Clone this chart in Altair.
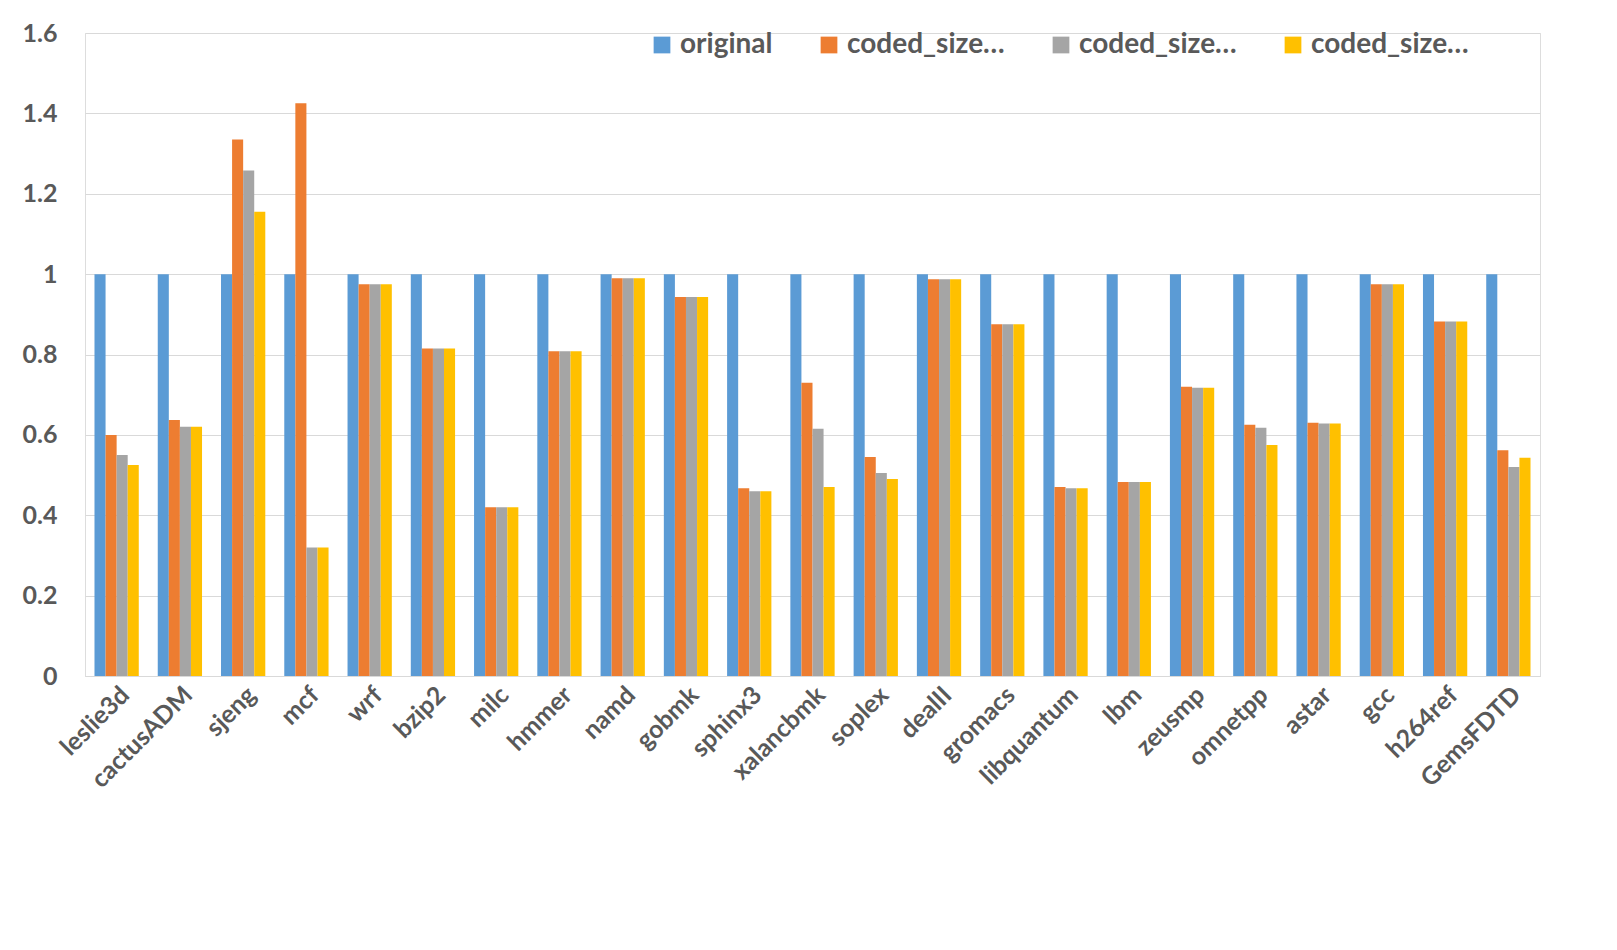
import altair as alt
import pandas as pd

benchmarks = ["leslie3d","cactusADM","sjeng","mcf","wrf","bzip2","milc","hmmer","namd","gobmk",
              "sphinx3","xalancbmk","soplex","dealII","gromacs","libquantum","lbm","zeusmp",
              "omnetpp","astar","gcc","h264ref","GemsFDTD"]
original = [1.0]*23
coded_size32 = [0.60,0.637,1.335,1.425,0.975,0.815,0.42,0.808,0.99,0.943,0.467,0.73,0.545,0.987,0.875,0.47,0.483,0.72,0.625,0.63,0.975,0.882,0.562]
coded_size64 = [0.55,0.62,1.258,0.32,0.975,0.815,0.42,0.808,0.99,0.943,0.46,0.615,0.505,0.987,0.875,0.467,0.483,0.717,0.618,0.628,0.975,0.882,0.52]
coded_size128 = [0.525,0.62,1.155,0.32,0.975,0.815,0.42,0.808,0.99,0.943,0.46,0.47,0.49,0.987,0.875,0.467,0.483,0.717,0.575,0.628,0.975,0.882,0.543]
series = ["original","coded_size32","coded_size64","coded_size128"]
colors = ["#5B9BD5","#ED7D31","#A5A5A5","#FFC000"]

rows = []
for name, vals in zip(series, [original, coded_size32, coded_size64, coded_size128]):
    for b, v in zip(benchmarks, vals):
        rows.append({"bench": b, "series": name, "value": v})
df = pd.DataFrame(rows)

font = "Lato"
chart = alt.Chart(df).mark_bar().encode(
    x=alt.X("bench:N", sort=benchmarks, title=None,
            scale=alt.Scale(paddingInner=0.3, paddingOuter=0.15),
            axis=alt.Axis(labelAngle=-45, labelAlign="right", labelBaseline="top",
                          labelFontSize=25, labelFontWeight="bold", labelColor="#595959",
                          labelFont=font, ticks=False, domainColor="#d9d9d9", labelPadding=6)),
    xOffset=alt.XOffset("series:N", sort=series),
    y=alt.Y("value:Q", title=None, scale=alt.Scale(domain=[0, 1.6]),
            axis=alt.Axis(values=[0,0.2,0.4,0.6,0.8,1,1.2,1.4,1.6], format="~g",
                          labelFontSize=25, labelFontWeight="bold", labelColor="#595959",
                          labelFont=font, ticks=False, domain=False, gridColor="#d9d9d9",
                          labelPadding=28)),
    color=alt.Color("series:N", sort=series, scale=alt.Scale(domain=series, range=colors),
                    legend=alt.Legend(title=None, orient="none", legendX=563, legendY=-2,
                                      direction="horizontal", symbolType="square", symbolSize=280,
                                      labelFontSize=28, labelFontWeight="bold", labelColor="#595959",
                                      labelFont=font, columnPadding=42, symbolStrokeWidth=0)),
).properties(width=1455, height=643, autosize=alt.AutoSizeParams(type="none"),
             padding={"left": 77, "top": 25, "right": 20, "bottom": 230}
).configure_view(stroke=None).configure(background="white")

chart.save("out.html", embed_options={"renderer": "svg", "actions": False})
